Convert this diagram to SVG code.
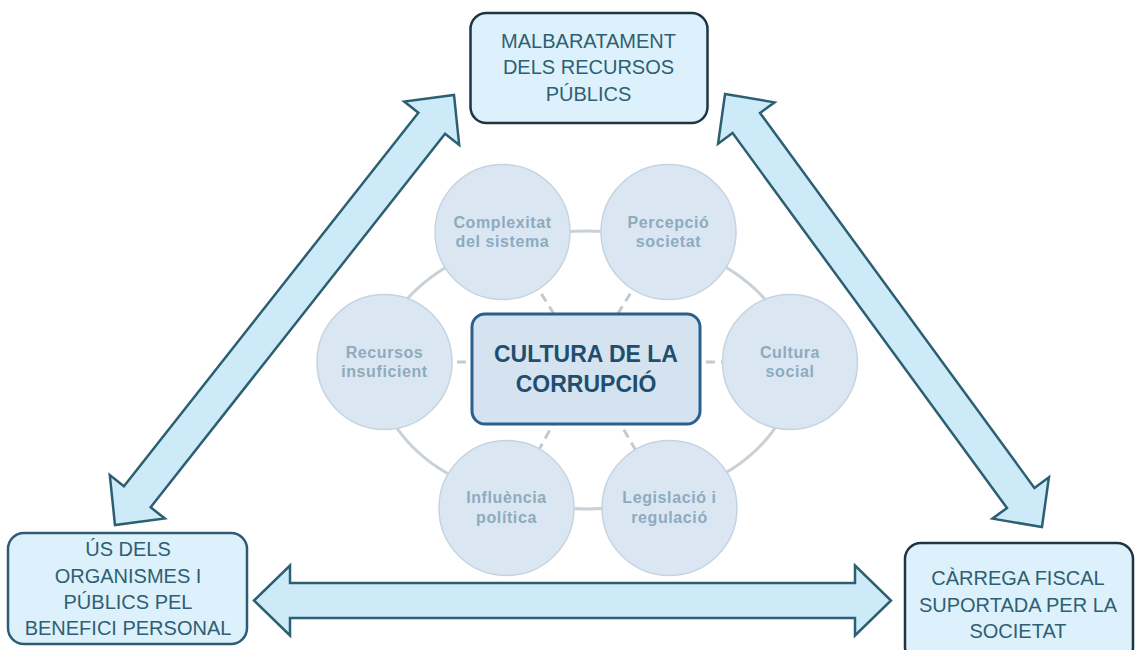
<svg xmlns="http://www.w3.org/2000/svg" width="1135" height="650" viewBox="0 0 1135 650">
<style>
.box{fill:#dcf1fb;stroke-width:2.5}
.btxt{font-family:"Liberation Sans",Arial,sans-serif;font-size:20px;fill:#2f5f72;text-anchor:middle}
.arrow{fill:#cdeaf8;stroke:#2d5f73;stroke-width:2.5;stroke-linejoin:miter}
.circ{fill:#dae7f3;stroke:#c6d4e0;stroke-width:1.5}
.ctxt{font-family:"Liberation Sans",Arial,sans-serif;font-size:16px;font-weight:bold;fill:#8eabbe;text-anchor:middle;letter-spacing:0.6px}
.ring{fill:none;stroke:#c9d1d7;stroke-width:3}
.dash{stroke:#c3cbd1;stroke-width:3;stroke-dasharray:9 6}
</style>
<rect width="1135" height="650" fill="#ffffff"/>
<g id="connectors">
  <path class="arrow" transform="translate(572.5,600.5)" d="M -318.5 0 L -282.5 -35 L -282.5 -17.5 L 282.5 -17.5 L 282.5 -35 L 318.5 0 L 282.5 35 L 282.5 17.5 L -282.5 17.5 L -282.5 35 Z"/>
  <path class="arrow" transform="translate(284.5,310) rotate(-51.75)" d="M -273.8 0 L -237.8 -35 L -237.8 -17 L 237.8 -17 L 237.8 -35 L 273.8 0 L 237.8 35 L 237.8 17 L -237.8 17 L -237.8 35 Z"/>
  <path class="arrow" transform="translate(883.5,310.5) rotate(53.8)" d="M -268.3 0 L -232.3 -35 L -232.3 -17 L 232.3 -17 L 232.3 -35 L 268.3 0 L 232.3 35 L 232.3 17 L -232.3 17 L -232.3 35 Z"/>
  <ellipse class="ring" cx="586" cy="370" rx="208" ry="139"/>
  <line class="dash" x1="586" y1="365" x2="502.5" y2="232"/>
  <line class="dash" x1="586" y1="365" x2="668.5" y2="232"/>
  <line class="dash" x1="586" y1="362" x2="384.5" y2="362"/>
  <line class="dash" x1="586" y1="362" x2="790" y2="362"/>
  <line class="dash" x1="586" y1="365" x2="506.5" y2="508"/>
  <line class="dash" x1="586" y1="365" x2="669.5" y2="508"/>
</g>
<g id="top-box">
  <rect class="box" x="470.5" y="13" width="237" height="110" rx="16" stroke="#1e3542"/>
  <text class="btxt" x="588.5" y="48">MALBARATAMENT</text>
  <text class="btxt" x="588.5" y="74">DELS RECURSOS</text>
  <text class="btxt" x="588.5" y="101">PÚBLICS</text>
</g>
<g id="left-box">
  <rect class="box" x="8" y="533" width="239" height="111" rx="16" stroke="#2f5b73"/>
  <text class="btxt" x="128" y="556">ÚS DELS</text>
  <text class="btxt" x="128" y="583">ORGANISMES I</text>
  <text class="btxt" x="128" y="609">PÚBLICS PEL</text>
  <text class="btxt" x="128" y="635">BENEFICI PERSONAL</text>
</g>
<g id="right-box">
  <rect class="box" x="905" y="543" width="228" height="120" rx="16" stroke="#1e3542"/>
  <text class="btxt" x="1018" y="585">CÀRREGA FISCAL</text>
  <text class="btxt" x="1018" y="612">SUPORTADA PER LA</text>
  <text class="btxt" x="1018" y="638">SOCIETAT</text>
</g>
<g id="c-complexitat">
  <circle class="circ" cx="502.5" cy="232" r="67.5"/>
  <text class="ctxt" x="502.5" y="228">Complexitat</text>
  <text class="ctxt" x="502.5" y="247">del sistema</text>
</g>
<g id="c-percepcio">
  <circle class="circ" cx="668.5" cy="232" r="67.5"/>
  <text class="ctxt" x="668.5" y="228">Percepció</text>
  <text class="ctxt" x="668.5" y="247">societat</text>
</g>
<g id="c-recursos">
  <circle class="circ" cx="384.5" cy="362" r="67.5"/>
  <text class="ctxt" x="384.5" y="358">Recursos</text>
  <text class="ctxt" x="384.5" y="377">insuficient</text>
</g>
<g id="c-cultura">
  <circle class="circ" cx="790" cy="362" r="67.5"/>
  <text class="ctxt" x="790" y="358">Cultura</text>
  <text class="ctxt" x="790" y="377">social</text>
</g>
<g id="c-influencia">
  <circle class="circ" cx="506.5" cy="508" r="67.5"/>
  <text class="ctxt" x="506.5" y="503">Influència</text>
  <text class="ctxt" x="506.5" y="523">política</text>
</g>
<g id="c-legislacio">
  <circle class="circ" cx="669.5" cy="508" r="67.5"/>
  <text class="ctxt" x="669.5" y="503">Legislació i</text>
  <text class="ctxt" x="669.5" y="523">regulació</text>
</g>
<g id="center-box">
  <rect x="472" y="314" width="228" height="110" rx="13" fill="#d5e3f1" stroke="#2b5f8c" stroke-width="3"/>
  <text x="586" y="362" font-family="Liberation Sans, Arial, sans-serif" font-size="23" font-weight="bold" fill="#1f4e6e" text-anchor="middle">CULTURA DE LA</text>
  <text x="586" y="392" font-family="Liberation Sans, Arial, sans-serif" font-size="23" font-weight="bold" fill="#1f4e6e" text-anchor="middle">CORRUPCIÓ</text>
</g>
</svg>
